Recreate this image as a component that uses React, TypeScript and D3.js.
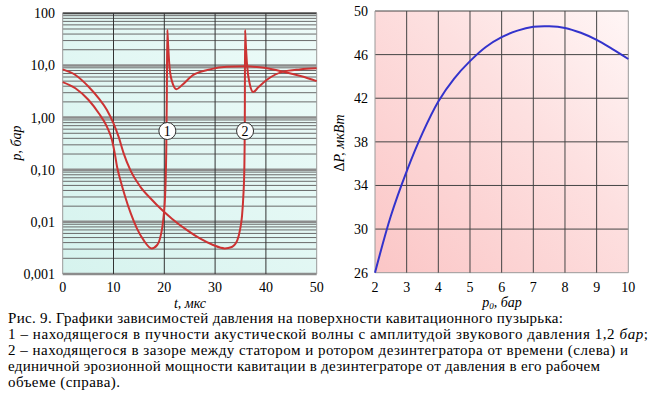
import React from "react";
import * as d3 from "d3";

// left chart: pressure at bubble surface vs time (log scale)
const curve1T = [0, 2.5, 5.1, 7.1, 8.7, 9.7, 10.25, 10.7, 11.35, 12.3, 13.4, 14.6, 15.9, 17.5, 18.6, 19.3, 19.8, 20.2, 20.4, 20.5, 20.6, 20.75, 21.0, 21.5, 22.4, 23.5, 25.7, 29, 32.3, 35.9, 38.8, 43.4, 47, 50];
const curve1P = [4.8, 3.65, 2.17, 1.21, 0.67, 0.37, 0.206, 0.114, 0.0635, 0.0304, 0.0145, 0.0075, 0.0045, 0.0031, 0.0036, 0.0055, 0.011, 0.04, 0.3, 3, 48, 25, 10, 5, 3.5, 4.2, 6.6, 8.4, 9.4, 9.6, 9.2, 7.6, 6.2, 5.0];
const curve2T = [0, 2.5, 5.1, 7.1, 8.7, 10.0, 11.0, 12.0, 13.3, 15.3, 17.6, 19.2, 21.5, 24.4, 27, 29.6, 31.9, 33.3, 34.4, 34.9, 35.3, 35.55, 35.75, 35.85, 35.9, 36.05, 36.3, 36.8, 37.5, 38.5, 40.2, 43.4, 46.7, 50];
const curve2P = [8.4, 6.56, 3.91, 2.34, 1.4, 0.776, 0.43, 0.206, 0.099, 0.047, 0.0263, 0.0182, 0.0115, 0.007, 0.0048, 0.0036, 0.0031, 0.0033, 0.0045, 0.007, 0.013, 0.03, 0.1, 1, 48, 25, 10, 4.5, 3.1, 3.8, 5.3, 7.6, 8.4, 8.8];
const leftXTicks = [0, 10, 20, 30, 40, 50];
const leftYTicks = [100, 10, 1, 0.1, 0.01, 0.001];
const leftYLabels = ["100", "10,0", "1,00", "0,10", "0,01", "0,001"];

// right chart: erosion power vs pressure
const powerP0 = [2, 2.5, 3, 3.5, 4, 4.5, 5, 5.5, 6, 6.5, 7, 7.5, 8, 8.5, 9, 9.5, 10];
const powerDP = [26, 31.2, 35.3, 38.8, 41.7, 43.8, 45.4, 46.7, 47.6, 48.2, 48.55, 48.6, 48.45, 48.0, 47.35, 46.5, 45.6];
const rightXTicks = [2, 3, 4, 5, 6, 7, 8, 9, 10];
const rightYTicks = [26, 30, 34, 38, 42, 46, 50];

const captionLines = [
  "Рис. 9.  Графики зависимостей давления на поверхности кавитационного пузырька:",
  "1 – находящегося в пучности акустической волны с амплитудой звукового давления 1,2 ",
  "2 – находящегося в зазоре между статором и ротором дезинтегратора от времени (слева) и",
  "единичной эрозионной мощности кавитации в дезинтеграторе от давления в его рабочем",
  "объеме (справа).",
];
const captionWidths = [555, 640, 620, 592, 112];

const serif = "'Liberation Serif', 'Times New Roman', Times, Tinos, 'DejaVu Serif', 'Noto Serif', serif";

export default function App() {
  // left scales
  const lx = d3.scaleLinear().domain([0, 50]).range([62.7, 316.7]);
  const ly = d3.scaleLog().domain([0.001, 100]).range([274, 13.3]);
  // right scales
  const rx = d3.scaleLinear().domain([2, 10]).range([375, 628.3]);
  const ry = d3.scaleLinear().domain([26, 50]).range([272.7, 11]);

  const redLine = d3
    .line<[number, number]>()
    .x((d) => lx(d[0]))
    .y((d) => ly(d[1]))
    .curve(d3.curveMonotoneX);
  const blueLine = d3
    .line<[number, number]>()
    .x((d) => rx(d[0]))
    .y((d) => ry(d[1]))
    .curve(d3.curveCatmullRom);

  const c1 = curve1T.map((t, i) => [t, curve1P[i]] as [number, number]);
  const c2 = curve2T.map((t, i) => [t, curve2P[i]] as [number, number]);
  const pw = powerP0.map((p, i) => [p, powerDP[i]] as [number, number]);

  // minor log lines 2..9 in each decade
  const minor: number[] = [];
  for (let e = -3; e < 2; e++) {
    for (let m = 2; m <= 9; m++) minor.push(m * Math.pow(10, e));
  }

  const [lx0, lx1] = lx.range();
  const [ly1, ly0] = ly.range();
  const [rx0, rx1] = rx.range();
  const [ry1, ry0] = ry.range();

  return (
    <svg
      width={662}
      height={398}
      style={{ position: "absolute", left: 0, top: 0, background: "#fff", fontFamily: serif }}
    >
      <defs>
        <linearGradient id="mint" x1="0" y1="1" x2="1" y2="0">
          <stop offset="0" stopColor="#d6f3ee" />
          <stop offset="1" stopColor="#eefbf9" />
        </linearGradient>
        <linearGradient id="pink" x1="0" y1="1" x2="1" y2="0">
          <stop offset="0" stopColor="#fbc6c6" />
          <stop offset="0.6" stopColor="#fde0e0" />
          <stop offset="1" stopColor="#fff6f6" />
        </linearGradient>
      </defs>

      {/* ---- left chart ---- */}
      <rect x={lx0} y={ly0} width={lx1 - lx0} height={ly1 - ly0} fill="url(#mint)" />
      {minor.map((v) => (
        <line key={"m" + v} x1={lx0} x2={lx1} y1={ly(v)} y2={ly(v)} stroke="#6a6a6a" strokeWidth={1} />
      ))}
      {leftYTicks.map((v) => (
        <line key={"M" + v} x1={lx0} x2={lx1} y1={ly(v)} y2={ly(v)} stroke="#8c8c8c" strokeWidth={2.5} />
      ))}
      <line x1={lx0} x2={lx1} y1={ly0} y2={ly0} stroke="#333" strokeWidth={1} />
      {leftXTicks.map((v) => (
        <line
          key={"v" + v}
          x1={lx(v)}
          x2={lx(v)}
          y1={ly0}
          y2={ly1}
          stroke={v === 0 || v === 50 ? "#999" : "#333"}
          strokeWidth={1}
        />
      ))}
      <path d={redLine(c1) || ""} fill="none" stroke="#cc3333" strokeWidth={2} />
      <path d={redLine(c2) || ""} fill="none" stroke="#cc3333" strokeWidth={2} />
      {[
        { t: 20.6, n: "1" },
        { t: 35.9, n: "2" },
      ].map((c) => (
        <g key={c.n}>
          <circle cx={lx(c.t)} cy={131} r={8.5} fill="#fff" stroke="#333" strokeWidth={1} />
          <text x={lx(c.t)} y={136} textAnchor="middle" fontSize={14}>
            {c.n}
          </text>
        </g>
      ))}
      {leftYTicks.map((v, i) => (
        <text key={"yl" + v} x={55} y={ly(v) + 5} textAnchor="end" fontSize={14}>
          {leftYLabels[i]}
        </text>
      ))}
      {leftXTicks.map((v) => (
        <text key={"xl" + v} x={lx(v)} y={292} textAnchor="middle" fontSize={14}>
          {v}
        </text>
      ))}
      <text x={190} y={308} textAnchor="middle" fontSize={14} fontStyle="italic">
        t, мкс
      </text>
      <text
        transform="translate(21,143) rotate(-90)"
        textAnchor="middle"
        fontSize={14}
        fontStyle="italic"
      >
        p, бар
      </text>

      {/* ---- right chart ---- */}
      <rect x={rx0} y={ry0} width={rx1 - rx0} height={ry1 - ry0} fill="url(#pink)" />
      {rightYTicks.map((v) => (
        <line
          key={"rh" + v}
          x1={rx0}
          x2={rx1}
          y1={ry(v)}
          y2={ry(v)}
          stroke={v === 26 ? "#999" : "#444"}
          strokeWidth={1}
        />
      ))}
      {rightXTicks.map((v) => (
        <line
          key={"rv" + v}
          x1={rx(v)}
          x2={rx(v)}
          y1={ry0}
          y2={ry1}
          stroke={v === 2 || v === 10 ? "#999" : "#444"}
          strokeWidth={1}
        />
      ))}
      <path d={blueLine(pw) || ""} fill="none" stroke="#3333cc" strokeWidth={2} />
      {rightYTicks.map((v) => (
        <text key={"ryl" + v} x={368} y={ry(v) + 5} textAnchor="end" fontSize={14}>
          {v}
        </text>
      ))}
      {rightXTicks.map((v) => (
        <text key={"rxl" + v} x={rx(v)} y={292} textAnchor="middle" fontSize={14}>
          {v}
        </text>
      ))}
      <text x={502} y={307} textAnchor="middle" fontSize={14} fontStyle="italic">
        p
        <tspan fontSize={9} dy={2}>
          0
        </tspan>
        <tspan dy={-2}>, бар</tspan>
      </text>
      <text
        transform="translate(344,143) rotate(-90)"
        textAnchor="middle"
        fontSize={14}
        fontStyle="italic"
      >
        <tspan fontStyle="normal">Δ</tspan>P, мкВт
      </text>

      {/* ---- caption ---- */}
      {captionLines.map((s, i) => (
        <text
          key={"cap" + i}
          x={8}
          y={323 + i * 16}
          fontSize={15}
          textLength={captionWidths[i]}
          lengthAdjust="spacing"
        >
          {s}
          {i === 1 ? <tspan fontStyle="italic">бар</tspan> : null}
          {i === 1 ? ";" : null}
        </text>
      ))}
    </svg>
  );
}
